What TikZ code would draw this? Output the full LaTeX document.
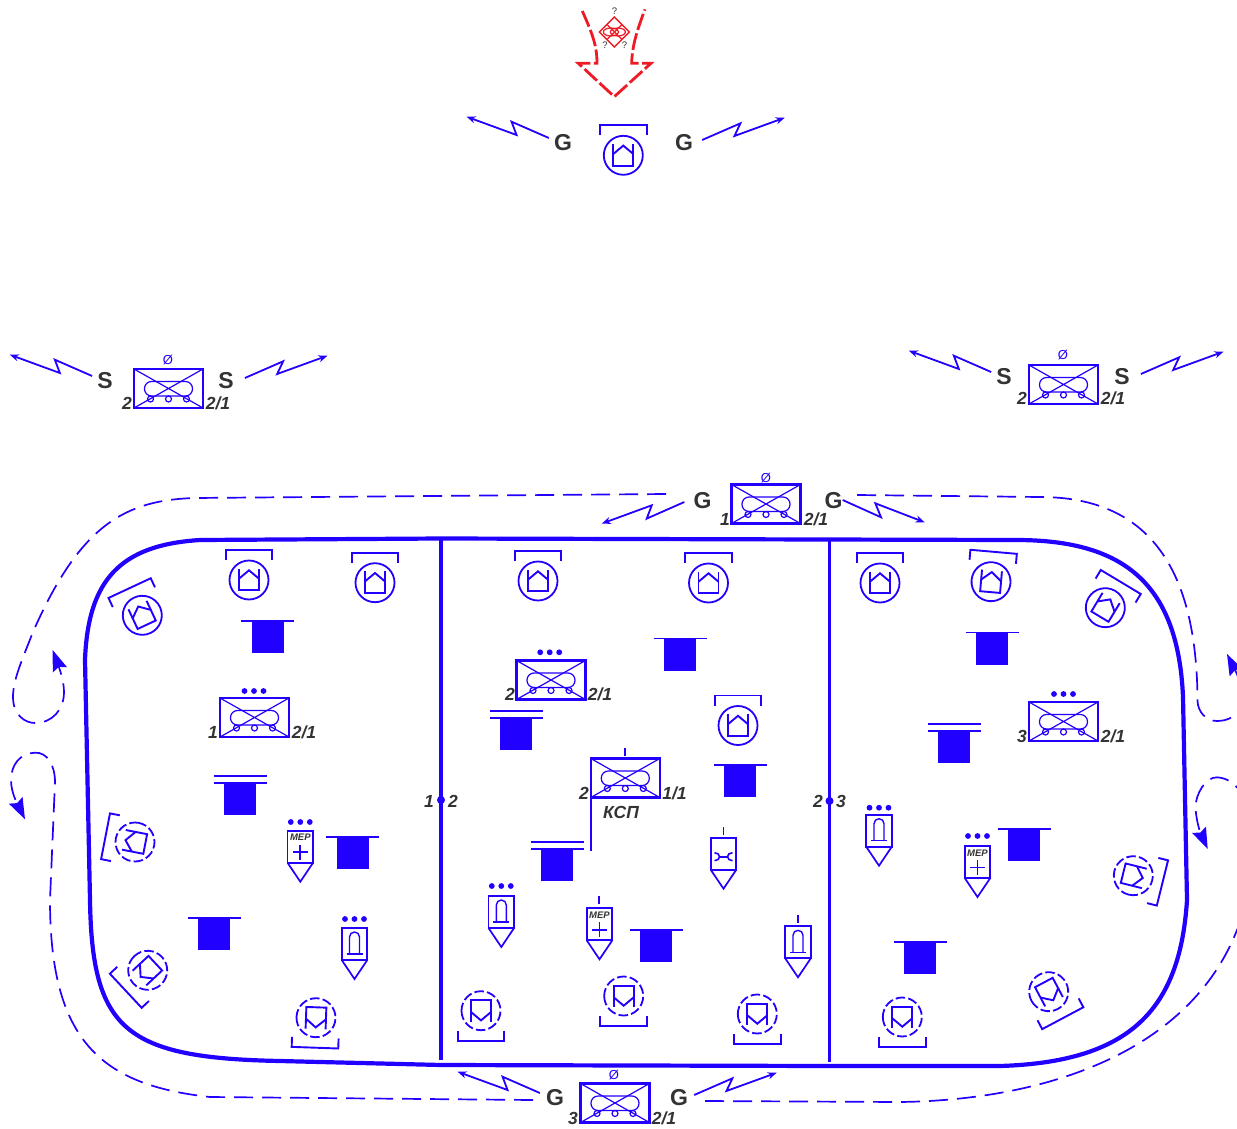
\documentclass[tikz,border=0pt]{standalone}
\usepackage{fontspec}
\setmainfont{Liberation Sans}
\usepackage{xcolor}
\usepackage{tikz}
\usetikzlibrary{arrows.meta}

\definecolor{unitblue}{HTML}{2200FF}
\definecolor{enemyred}{HTML}{ED1C24}
\definecolor{labelgray}{HTML}{333333}

\tikzset{
  ring/.style={},
  ruse/.style={ring/.style={dash pattern=on 9.5pt off 3.2pt}},
  signlab/.style={font=\bfseries\fontsize{23}{23}\selectfont,text=labelgray,inner sep=0pt},
  numlab/.style={font=\bfseries\itshape\fontsize{17.5}{18}\selectfont,text=labelgray,inner sep=0pt},
  voidlab/.style={font=\fontsize{13}{13}\selectfont,text=unitblue,inner sep=0pt},
  asklab/.style={font=\fontsize{9.5}{10}\selectfont,text=labelgray,inner sep=0pt},
  zap/.style={draw=unitblue,line width=1.8pt,-{Stealth[length=9pt,width=7pt]}},
  route/.style={draw=unitblue,line width=1.7pt,dash pattern=on 19pt off 9pt},
  routeend/.style={route,-{Stealth[length=21pt,width=15pt,inset=3pt]}},
  border/.style={draw=unitblue,line width=4.2pt},
  bmpbox/.pic={
    \draw[unitblue,line width=2.3pt] (-34.5,-19.5) rectangle (34.5,19.5);
    \draw[unitblue,line width=1.2pt] (-34.5,-19.5) -- (34.5,19.5) (-34.5,19.5) -- (34.5,-19.5);
    \draw[unitblue,line width=1.2pt,rounded corners=7pt] (-24,-7) rectangle (24,7.5);
    \draw[unitblue,line width=1.2pt] (-18,10.5) circle[radius=3pt] (0,10.5) circle[radius=3pt] (18,10.5) circle[radius=3pt];
    \coordinate (-sw) at (-34.5,19.5);
  },
  post/.pic={
    \draw[unitblue,line width=1.8pt,ring] (0,0) circle[radius=19.5pt];
    \draw[unitblue,line width=1.9pt] (-10,-11.3) -- (-10,10.4) -- (10,10.4) -- (10,-11.3);
    \draw[unitblue,line width=1.9pt] (-10,-1.3) -- (0,-9.7) -- (10,-1.3);
    \draw[unitblue,line width=1.9pt] (-23.3,-20) -- (-23.3,-30) -- (23.3,-30) -- (23.3,-20);
  },
  pit/.pic={
    \fill[unitblue] (-16,0) rectangle (16,32);
    \draw[unitblue,line width=1.9pt] (-26.5,0) -- (26.5,0);
  },
  pitdbl/.pic={
    \fill[unitblue] (-16,0) rectangle (16,32);
    \draw[unitblue,line width=1.9pt] (-26.5,0) -- (26.5,0) (-26.5,-7) -- (26.5,-7);
  },
  tag/.pic={
    \draw[unitblue,line width=1.7pt] (-12.8,0) rectangle (12.8,32);
    \draw[unitblue,line width=1.7pt] (-12.8,32) -- (0,51) -- (12.8,32);
  },
  tagarch/.pic={
    \pic {tag};
    \draw[unitblue,line width=1.4pt] (-5,26) -- (-5,9) arc[start angle=180,end angle=0,radius=5pt] -- (5,26);
    \draw[unitblue,line width=1.4pt] (-8,26) -- (8,26);
  },
  tagmep/.pic={
    \pic {tag};
    \node[font=\bfseries\itshape\fontsize{9.5}{10}\selectfont,text=labelgray,inner sep=0pt] (-mep) at (0,7) {МЕР};
    \draw[unitblue,line width=1.7pt] (-7.5,21.5) -- (7.5,21.5) (0,14) -- (0,29);
  },
  tagjoint/.pic={
    \pic {tag};
    \draw[unitblue,line width=1.6pt] (-9,15) .. controls (-6,15) and (-4,17) .. (-4,19) .. controls (-4,21) and (-6,23) .. (-9,23);
    \draw[unitblue,line width=1.6pt] (9,15) .. controls (6,15) and (4,17) .. (4,19) .. controls (4,21) and (6,23) .. (9,23);
    \draw[unitblue,line width=1.6pt] (-4,19) -- (4,19);
  },
  threedots/.pic={
    \fill[unitblue] (-9.5,0) circle[radius=2.9pt] (0,0) circle[radius=2.9pt] (9.5,0) circle[radius=2.9pt];
  },
  onetick/.pic={
    \draw[unitblue,line width=1.7pt] (0,-8) -- (0,0);
  }
}

\newcommand{\zapleft}[2]{\draw[zap] ([shift={(-#2,-5)}]#1.west) -- ++(-37.3,-16.3) -- ++(5,13.3) -- ++(-50,-18.3);}
\newcommand{\zapright}[2]{\draw[zap] ([shift={(#2,-3)}]#1.east) -- ++(38.3,-16.7) -- ++(-6,12.7) -- ++(50.3,-18.3);}

\begin{document}
\begin{tikzpicture}[x=1pt,y=-1pt]
  \useasboundingbox (0,0) rectangle (1237,1129);

  % enemy arrow on top
  \draw[enemyred,line width=2.8pt,dash pattern=on 17pt off 3.5pt] (582.3,11) .. controls (592,33) and (597,45) .. (597,63.3) -- (578.3,63.3) -- (614.3,96.7) -- (651,63.3) -- (631.7,63.3) .. controls (632,45) and (638,28) .. (645,9.3);
  \draw[enemyred,line width=1.3pt] (614.4,17) -- (629.4,32) -- (614.4,47) -- (599.4,32) -- cycle;
  \draw[enemyred,line width=1.2pt] (610.9,32) ellipse[x radius=7.5pt,y radius=4pt] (617.9,32) ellipse[x radius=7.5pt,y radius=4pt];
  \draw[enemyred,line width=1.2pt] (606.9,24.5) -- (621.9,39.5) (606.9,39.5) -- (621.9,24.5);
  \node[asklab] (ask1) at (614.5,11) {?};
  \node[asklab] (ask2) at (605,45.5) {?};
  \node[asklab] (ask3) at (624.5,45.5) {?};

  % group above
  \pic (toppost) at (623.3,155.3) {post};
  \node[signlab] (gtop1) at (563,143) {G};
  \node[signlab] (gtop2) at (684,143) {G};
  \zapleft{gtop1}{5}
  \zapright{gtop2}{9}

  % left and right machines
  \pic (bmpsl) at (168.5,388.5) {bmpbox};
  \node[voidlab] (voidsl) at (168,360) {Ø};
  \node[numlab] (numsl1) at (127,403) {2};
  \node[numlab] (numsl2) at (218,403) {2/1};
  \node[signlab] (ssl1) at (105,381) {S};
  \node[signlab] (ssl2) at (226,381) {S};
  \zapleft{ssl1}{5}
  \zapright{ssl2}{11}

  \pic (bmpsr) at (1063.5,384.5) {bmpbox};
  \node[voidlab] (voidsr) at (1063,355) {Ø};
  \node[numlab] (numsr1) at (1022,398) {2};
  \node[numlab] (numsr2) at (1113,398) {2/1};
  \node[signlab] (ssr1) at (1004,377) {S};
  \node[signlab] (ssr2) at (1122,377) {S};
  \zapleft{ssr1}{5}
  \zapright{ssr2}{11}

  % machine above the border
  \pic (bmpgt) at (766,504) {bmpbox};
  \node[voidlab] (voidgt) at (766,478) {Ø};
  \node[numlab] (numgt1) at (725,519) {1};
  \node[numlab] (numgt2) at (816,519) {2/1};
  \node[signlab] (ggt1) at (702.5,501) {G};
  \node[signlab] (ggt2) at (833.5,501) {G};
  \draw[zap] ([shift={(-9,1)}]ggt1.west) -- ++(-37.6,16.6) -- ++(5,-13.3) -- ++(-50,18.3);
  \draw[zap] ([shift={(0,-1)}]ggt2.east) -- ++(38.4,17.3) -- ++(-5.7,-14) -- ++(49.3,19);

  % machine below the border
  \pic (bmpgb) at (615,1103) {bmpbox};
  \node[voidlab] (voidgb) at (614,1075) {Ø};
  \node[numlab] (numgb1) at (573,1118) {3};
  \node[numlab] (numgb2) at (664,1118) {2/1};
  \node[signlab] (ggb1) at (555,1098) {G};
  \node[signlab] (ggb2) at (679,1098) {G};
  \zapleft{ggb1}{6}
  \zapright{ggb2}{6}

  % border of the area
  \draw[border] (441,538.5) -- (200,540) .. controls (120,545) and (88,580) .. (85,660) -- (90,900) .. controls (92,1030) and (125,1058) .. (280,1061) -- (441,1065) -- (830,1066) -- (1000,1066) .. controls (1130,1062) and (1180,1010) .. (1187,900) -- (1183,697) .. controls (1178,580) and (1120,540) .. (1016,540) -- cycle;
  \draw[unitblue,line width=3.4pt] (441,538) -- (441,1060);
  \draw[unitblue,line width=3.4pt] (829.5,541) -- (829.5,1062);
  \fill[unitblue] (441,800) circle[radius=4pt] (829.5,801) circle[radius=4pt];
  \node[numlab] (numb1) at (429,801) {1};
  \node[numlab] (numb2) at (453,801) {2};
  \node[numlab] (numb3) at (818,801) {2};
  \node[numlab] (numb4) at (841,801) {3};

  % routes round the area
  \coordinate (rta) at (666,494);
  \coordinate (rtb) at (857,495);
  \coordinate (rba) at (533,1100);
  \coordinate (rbb) at (705,1101);
  \draw[routeend] (rta) -- (195,498) .. controls (125,500) and (80,525) .. (33,632) .. controls (22,660) and (13,680) .. (13,697) .. controls (13,715) and (25,723) .. (35,723) .. controls (52,723) and (64,710) .. (64,692) .. controls (64,682) and (60,670) .. (52.7,650);
  \draw[routeend] (rba) -- (210,1097) .. controls (100,1085) and (50,1040) .. (50,900) -- (55,782) .. controls (55,765) and (47,752) .. (35,752.7) .. controls (20,753) and (11,765) .. (11,780) .. controls (11,793) and (18,805) .. (25,819.3);
  \draw[routeend] (rtb) -- (1040,497) .. controls (1150,497) and (1197,570) .. (1197.5,701) .. controls (1198,712) and (1206,721) .. (1217,721) .. controls (1240,721) and (1250,700) .. (1227,654);
  \draw[routeend] (rbb) -- (900,1102) .. controls (1050,1100) and (1190,1050) .. (1237,930) .. controls (1262,880) and (1262,780) .. (1217,777.3) .. controls (1205,777) and (1195.5,795) .. (1195.5,807) .. controls (1196,820) and (1200,832) .. (1207.7,849);

  % left sector
  \pic[rotate=25] (postl1) at (142.3,615.3) {post};
  \pic (postl2) at (249,580) {post};
  \pic (postl3) at (375,582.7) {post};
  \pic[ruse,rotate=79] (postl4) at (135,842) {post};
  \pic[ruse,rotate=133] (postl5) at (147.7,970.3) {post};
  \pic[ruse,rotate=178] (postl6) at (316,1017.7) {post};
  \pic (pitl1) at (267.5,621) {pit};
  \pic (pitl2) at (240,783) {pitdbl};
  \pic (pitl3) at (352.5,837) {pit};
  \pic (pitl4) at (214,918) {pit};
  \pic (bmpl) at (254.5,717.5) {bmpbox};
  \pic (dotsl1) at (254,691) {threedots};
  \node[numlab] (numl1) at (213,732) {1};
  \node[numlab] (numl2) at (304,732) {2/1};
  \pic (tagl1) at (300.3,830.7) {tagmep};
  \pic (dotsl2) at (300.3,822) {threedots};
  \pic (tagl2) at (354.5,928) {tagarch};
  \pic (dotsl3) at (354.5,919) {threedots};

  % middle sector
  \pic (postm1) at (538,581) {post};
  \pic (postm2) at (708.5,583) {post};
  \pic (postm3) at (738,725.5) {post};
  \pic[ruse,rotate=180] (postm4) at (481,1010.7) {post};
  \pic[ruse,rotate=180] (postm5) at (623.7,996) {post};
  \pic[ruse,rotate=180] (postm6) at (757.3,1014) {post};
  \pic (pitm1) at (680,638.5) {pit};
  \pic (pitm2) at (516.3,717.7) {pitdbl};
  \pic (pitm3) at (740.3,765.3) {pit};
  \pic (pitm4) at (557.3,848.7) {pitdbl};
  \pic (pitm5) at (656,930) {pit};
  \pic (bmpm) at (551,680) {bmpbox};
  \pic (dotsm1) at (549.7,652.3) {threedots};
  \node[numlab] (numm1) at (510,694) {2};
  \node[numlab] (numm2) at (600,694) {2/1};
  \pic (kspbox) at (625.3,778) {bmpbox};
  \pic (tickm1) at (625,756) {onetick};
  \draw[unitblue,line width=1.7pt] (kspbox-sw) -- ++(0,53);
  \node[numlab] (numk1) at (584,793) {2};
  \node[numlab] (numk2) at (674.5,793) {1/1};
  \node[numlab] (numk3) at (621,812) {КСП};
  \pic (tagm1) at (723.5,837.7) {tagjoint};
  \pic (tickm2) at (723.5,835) {onetick};
  \pic (tagm2) at (501.3,896) {tagarch};
  \pic (dotsm2) at (501.3,886) {threedots};
  \pic (tagm3) at (599.5,908.3) {tagmep};
  \pic (tickm3) at (599,904) {onetick};
  \pic (tagm4) at (798,926.3) {tagarch};
  \pic (tickm4) at (798,923.3) {onetick};

  % right sector
  \pic (postr1) at (880,583) {post};
  \pic[rotate=-5] (postr2) at (991,581.7) {post};
  \pic[rotate=-31] (postr3) at (1105.3,607.7) {post};
  \pic[ruse,rotate=-104] (postr4) at (1133.3,875.7) {post};
  \pic[ruse,rotate=208] (postr5) at (1048.7,991.7) {post};
  \pic[ruse,rotate=180] (postr6) at (902.3,1017) {post};
  \pic (pitr1) at (992,632.5) {pit};
  \pic (pitr2) at (954,731) {pitdbl};
  \pic (pitr3) at (1024,829.3) {pit};
  \pic (pitr4) at (920,942.3) {pit};
  \pic (bmpr) at (1063.5,721.5) {bmpbox};
  \pic (dotsr1) at (1063.5,694) {threedots};
  \node[numlab] (numr1) at (1022,736) {3};
  \node[numlab] (numr2) at (1113,736) {2/1};
  \pic (tagr1) at (879,814.7) {tagarch};
  \pic (dotsr2) at (879,807.7) {threedots};
  \pic (tagr2) at (977.5,846) {tagmep};
  \pic (dotsr3) at (977.5,836) {threedots};
\end{tikzpicture}
\end{document}
